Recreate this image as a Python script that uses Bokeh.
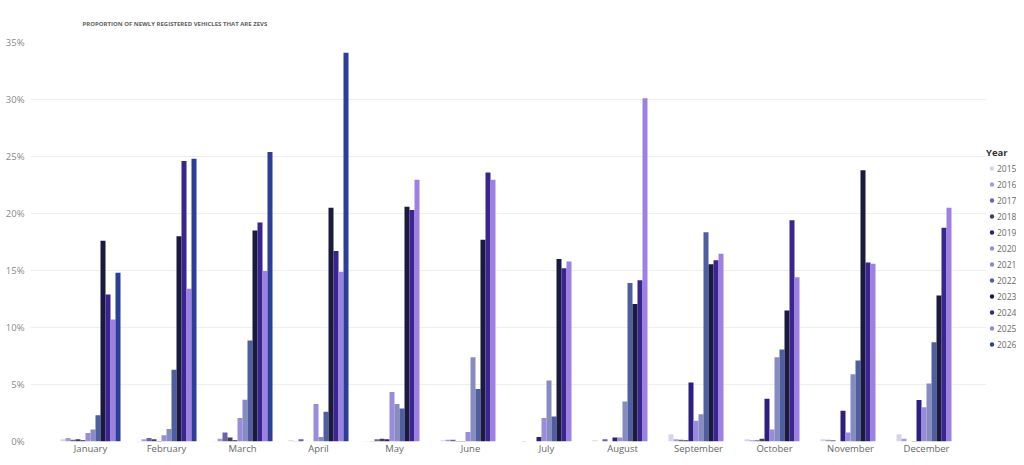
from bokeh.plotting import figure
from bokeh.layouts import row
from bokeh.models import (ColumnDataSource, FactorRange, Legend, LegendItem,
                          SingleIntervalTicker, PrintfTickFormatter)
from bokeh.transform import dodge
from bokeh.embed import file_html
from bokeh.resources import INLINE

months = ["January", "February", "March", "April", "May", "June", "July",
          "August", "September", "October", "November", "December"]
years = ["2015", "2016", "2017", "2018", "2019", "2020", "2021", "2022",
         "2023", "2024", "2025", "2026"]

# % of newly registered vehicles that are ZEVs, Jan..Dec
y2015 = [0.2, 0.05, 0.05, 0.1, 0.05, 0.1, 0.0, 0.1, 0.63, 0.2, 0.2, 0.63]
y2016 = [0.3, 0.2, 0.25, 0.05, 0.05, 0.15, 0.05, 0.0, 0.2, 0.1, 0.15, 0.25]
y2017 = [0.15, 0.3, 0.8, 0.2, 0.2, 0.15, 0.0, 0.2, 0.15, 0.1, 0.1, 0.0]
y2018 = [0.2, 0.2, 0.35, 0.0, 0.25, 0.05, 0.0, 0.0, 0.1, 0.25, 0.0, 0.05]
y2019 = [0.1, 0.05, 0.1, 0.0, 0.2, 0.05, 0.4, 0.35, 5.17, 3.75, 2.7, 3.63]
y2020 = [0.75, 0.55, 2.06, 3.3, 4.35, 0.83, 2.06, 0.35, 1.83, 1.06, 0.8, 3.0]
y2021 = [1.06, 1.1, 3.66, 0.4, 3.3, 7.4, 5.35, 3.5, 2.4, 7.4, 5.9, 5.09]
y2022 = [2.3, 6.3, 8.86, 2.6, 2.9, 4.6, 2.2, 13.9, 18.35, 8.06, 7.1, 8.7]
y2023 = [17.6, 18.0, 18.5, 20.5, 20.6, 17.7, 16.0, 12.07, 15.55, 11.5, 23.8, 12.8]
y2024 = [12.9, 24.6, 19.2, 16.7, 20.3, 23.6, 15.2, 14.15, 15.9, 19.4, 15.7, 18.75]
y2025 = [10.7, 13.4, 14.95, 14.9, 22.96, 22.96, 15.8, 30.1, 16.47, 14.4, 15.6, 20.5]
y2026 = [14.8, 24.8, 25.4, 34.1, None, None, None, None, None, None, None, None]

series = [y2015, y2016, y2017, y2018, y2019, y2020, y2021, y2022,
          y2023, y2024, y2025, y2026]
colors = ["#D6D3EA", "#A69DD8", "#6C62AC", "#3F4059", "#2C1F80", "#9A8CDD",
          "#868CC0", "#4F5EA0", "#1A1A3F", "#3A2490", "#9C80E3", "#2D3E98"]

H = 457
p = figure(width=986, height=H, output_backend="svg", toolbar_location=None,
           x_range=FactorRange(factors=months, range_padding=0.2895,
                               range_padding_units="absolute"),
           y_range=(0, 35), min_border_left=30, min_border_top=42,
           min_border_right=0, min_border_bottom=0,
           title="PROPORTION OF NEWLY REGISTERED VEHICLES THAT ARE ZEVS")

p.title.align = "left"
p.title.offset = 52
p.title.standoff = 30
p.title.text_font = "Open Sans"
p.title.text_font_size = "6px"
p.title.text_font_style = "bold"
p.title.text_color = "#5e5e5e"

# narrow panel on the right that carries the legend
leg = figure(width=30, height=H, output_backend="svg", toolbar_location=None,
             x_range=p.x_range, y_range=p.y_range, min_border=0,
             x_axis_location=None, y_axis_location=None)
leg.outline_line_color = None
leg.grid.visible = False

slot = 5.0 / 76.0
items = []
for i, (yr, vals, col) in enumerate(zip(years, series, colors)):
    ms = [m for m, v in zip(months, vals) if v is not None]
    vs = [v for v in vals if v is not None]
    src = ColumnDataSource(dict(month=ms, value=vs))
    xpos = dodge("month", (i - 5.5) * slot, range=p.x_range)
    p.vbar(x=xpos, top="value", width=slot, source=src,
           fill_color=col, line_color=None)
    dot = leg.scatter(x=xpos, y="value", source=src, marker="circle", size=6,
                      fill_color=col, line_color=None, visible=False)
    items.append(LegendItem(label=yr, renderers=[dot]))

legend = Legend(items=items, title="Year", location=(0, 89),
                title_text_font_style="bold", title_text_font_size="9.5px",
                title_text_color="#333333", title_text_font="Open Sans",
                label_text_font="Open Sans", label_text_font_size="8.5px",
                label_text_color="#6a6a6a", glyph_width=11, glyph_height=16,
                label_height=16, spacing=0, label_standoff=0, padding=0,
                margin=0, title_standoff=1, border_line_alpha=0,
                background_fill_alpha=0, inactive_fill_alpha=0)
leg.add_layout(legend)

p.outline_line_color = None
p.xgrid.grid_line_color = None
p.ygrid.grid_line_color = "#EEEEEE"
p.yaxis.ticker = SingleIntervalTicker(interval=5)
p.yaxis.formatter = PrintfTickFormatter(format="%d%%")
for ax in (p.xaxis, p.yaxis):
    ax.axis_line_color = None
    ax.major_tick_line_color = None
    ax.minor_tick_line_color = None
    ax.major_tick_out = 0
    ax.minor_tick_out = 0
    ax.major_tick_in = 0
    ax.minor_tick_in = 0
    ax.major_label_text_font = "Open Sans"
    ax.major_label_text_font_size = "9.5px"
p.yaxis.major_label_text_color = "#8a8a8a"
p.yaxis.major_label_standoff = 6
p.xaxis.major_label_text_color = "#666666"
p.xaxis.major_label_standoff = 0

open("out.html", "w").write(file_html(row(p, leg), INLINE))
